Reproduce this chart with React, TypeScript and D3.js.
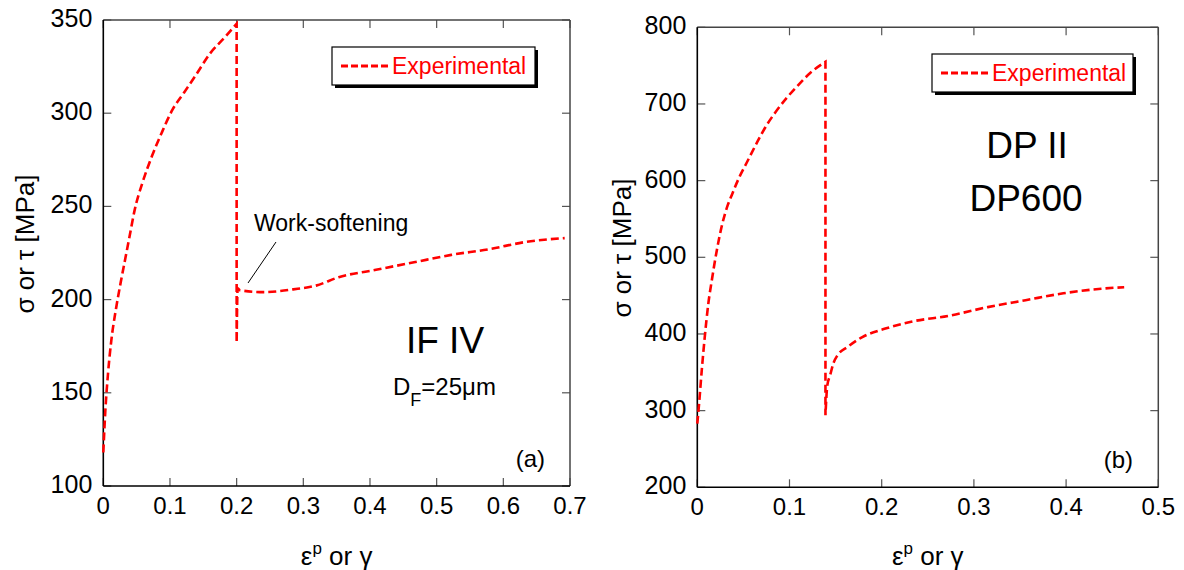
import React from "react";
import * as d3 from "d3";

// ---------- data ----------
// Panel (a): IF IV  (loading, drop at strain path change, reloading)
const strainA = [0, 0.003, 0.007, 0.012, 0.019, 0.026, 0.033, 0.04, 0.047, 0.059, 0.073, 0.087, 0.104, 0.121, 0.138, 0.16, 0.183, 0.2, 0.2, 0.2015, 0.205, 0.24, 0.285, 0.319, 0.353, 0.409, 0.466, 0.522, 0.578, 0.635, 0.692];
const stressA = [118, 140, 160, 178, 195, 209, 222, 235, 248, 263, 277, 289, 302, 311, 320, 332, 341, 348, 177, 206, 205, 204, 205.5, 207.5, 212, 216, 220, 224, 227, 231, 233];
// Panel (b): DP II DP600
const strainB = [0, 0.002, 0.005, 0.008, 0.012, 0.016, 0.021, 0.027, 0.033, 0.037, 0.045, 0.053, 0.064, 0.074, 0.084, 0.097, 0.109, 0.123, 0.139, 0.139, 0.141, 0.144, 0.148, 0.152, 0.163, 0.179, 0.204, 0.232, 0.274, 0.315, 0.356, 0.397, 0.438, 0.463];
const stressB = [283, 310, 355, 395, 440, 472, 508, 543, 568, 580, 603, 622, 648, 670, 688, 708, 724, 741, 755, 294, 333, 346, 363, 372, 383, 396, 407, 416, 424, 435, 444, 453, 459, 461];

const xTicksA = [0, 0.1, 0.2, 0.3, 0.4, 0.5, 0.6, 0.7];
const yTicksA = [100, 150, 200, 250, 300, 350];
const xTicksB = [0, 0.1, 0.2, 0.3, 0.4, 0.5];
const yTicksB = [200, 300, 400, 500, 600, 700, 800];

const legendLabel = "Experimental";
const FONT = "'Liberation Sans', Arial, Helvetica, sans-serif";
const RED = "#ff0000";

type PanelProps = {
  xs: number[];
  ys: number[];
  xDomain: [number, number];
  yDomain: [number, number];
  xTicks: number[];
  yTicks: number[];
  left: number;
  right: number;
  top: number;
  bottom: number;
  legend: { x: number; y: number; w: number; h: number };
  yTitleX: number;
  yTitleY: number;
  children?: React.ReactNode;
};

function buildPath(xs: number[], ys: number[], x: (v: number) => number, y: (v: number) => number) {
  const pts: [number, number][] = xs.map((v, i) => [v, ys[i]]);
  const segs: [number, number][][] = [];
  let cur: [number, number][] = [pts[0]];
  for (let i = 1; i < pts.length; i++) {
    if (pts[i][0] <= pts[i - 1][0]) {
      segs.push(cur);
      segs.push([pts[i - 1], pts[i]]);
      cur = [pts[i]];
    } else cur.push(pts[i]);
  }
  segs.push(cur);
  const smooth = d3.line<[number, number]>().x((d) => x(d[0])).y((d) => y(d[1])).curve(d3.curveMonotoneX);
  const straight = d3.line<[number, number]>().x((d) => x(d[0])).y((d) => y(d[1]));
  let d = "";
  segs.forEach((s, k) => {
    if (s.length < 2) return;
    const part = (k % 2 === 1 ? straight(s) : smooth(s)) || "";
    d += d === "" ? part : part.replace(/^M/, "L");
  });
  return d;
}

function Panel(p: PanelProps) {
  const x = d3.scaleLinear().domain(p.xDomain).range([p.left, p.right]);
  const y = d3.scaleLinear().domain(p.yDomain).range([p.bottom, p.top]);
  const tl = 8;
  const fmt = (v: number) => (v === 0 ? "0" : d3.format(".1f")(v));
  const cx = (p.left + p.right) / 2;
  const L = p.legend;
  return (
    <g>
      {p.xTicks.map((t) => (
        <g key={"x" + t}>
          <line x1={x(t)} x2={x(t)} y1={p.bottom} y2={p.bottom - tl} stroke="#555" strokeWidth={1.2} />
          <line x1={x(t)} x2={x(t)} y1={p.top} y2={p.top + tl} stroke="#555" strokeWidth={1.2} />
          <text x={x(t)} y={p.bottom + 28} textAnchor="middle" fontSize={24} fontFamily={FONT} fill="#000">
            {fmt(t)}
          </text>
        </g>
      ))}
      {p.yTicks.map((t) => (
        <g key={"y" + t}>
          <line x1={p.left} x2={p.left + tl} y1={y(t)} y2={y(t)} stroke="#555" strokeWidth={1.2} />
          <line x1={p.right} x2={p.right - tl} y1={y(t)} y2={y(t)} stroke="#555" strokeWidth={1.2} />
          <text x={p.left - 11} y={y(t) + 7} textAnchor="end" fontSize={25} fontFamily={FONT} fill="#000">
            {t}
          </text>
        </g>
      ))}
      <line x1={p.left} x2={p.right} y1={p.top} y2={p.top} stroke="#444" strokeWidth={1.5} />
      <line x1={p.right} x2={p.right} y1={p.top} y2={p.bottom} stroke="#444" strokeWidth={1.5} />
      <line x1={p.left} x2={p.right} y1={p.bottom} y2={p.bottom} stroke="#000" strokeWidth={1.6} />
      <line x1={p.left} x2={p.left} y1={p.top} y2={p.bottom} stroke="#000" strokeWidth={1.6} />
      <path d={buildPath(p.xs, p.ys, x, y)} fill="none" stroke={RED} strokeWidth={2.6} strokeDasharray="8,4" />
      <rect x={L.x + 3} y={L.y + 3} width={L.w} height={L.h} fill="#000" />
      <rect x={L.x} y={L.y} width={L.w} height={L.h} fill="#fff" stroke="#000" strokeWidth={1.2} />
      <line x1={L.x + 9} x2={L.x + 56} y1={L.y + L.h / 2} y2={L.y + L.h / 2} stroke={RED} strokeWidth={3} strokeDasharray="7,3" />
      <text x={L.x + 60} y={L.y + L.h / 2 + 8} fontSize={23} fontFamily={FONT} fill={RED}>
        {legendLabel}
      </text>
      <text x={cx} y={565} textAnchor="middle" fontSize={26} fontFamily={FONT} fill="#000">
        ε<tspan fontSize={17} dy={-11}>p</tspan>
        <tspan dy={11}> or γ</tspan>
      </text>
      <text
        transform={`translate(${p.yTitleX},${p.yTitleY}) rotate(-90)`}
        textAnchor="middle"
        dominantBaseline="central"
        fontSize={26}
        fontFamily={FONT}
        fill="#000"
      >
        σ or τ [MPa]
      </text>
      {p.children}
    </g>
  );
}

export default function App() {
  return (
    <svg width={1184} height={570} style={{ position: "absolute", left: 0, top: 0, background: "#fff" }}>
      <rect x={0} y={0} width={1184} height={570} fill="#fff" />
      <Panel
        xs={strainA}
        ys={stressA}
        xDomain={[0, 0.7]}
        yDomain={[100, 350]}
        xTicks={xTicksA}
        yTicks={yTicksA}
        left={103.3}
        right={570}
        top={20}
        bottom={486}
        legend={{ x: 332, y: 47, w: 203, h: 38 }}
        yTitleX={25}
        yTitleY={244}
      >
        <text x={445} y={353} textAnchor="middle" fontSize={37} fontFamily={FONT} fill="#000">
          IF IV
        </text>
        <text x={393} y={395} fontSize={24} fontFamily={FONT} fill="#000">
          D<tspan fontSize={18} dy={11}>F</tspan>
          <tspan dy={-11}>=25μm</tspan>
        </text>
        <text x={545} y={467} textAnchor="end" fontSize={24} fontFamily={FONT} fill="#000">
          (a)
        </text>
        <text x={254} y={231} fontSize={23} fontFamily={FONT} fill="#000">
          Work-softening
        </text>
        <line x1={276} y1={242} x2={248} y2={283} stroke="#000" strokeWidth={1} />
      </Panel>
      <Panel
        xs={strainB}
        ys={stressB}
        xDomain={[0, 0.5]}
        yDomain={[200, 800]}
        xTicks={xTicksB}
        yTicks={yTicksB}
        left={697.3}
        right={1158.3}
        top={27.3}
        bottom={487.3}
        legend={{ x: 932, y: 54, w: 201, h: 38 }}
        yTitleX={622}
        yTitleY={248}
      >
        <text x={1027} y={158} textAnchor="middle" fontSize={37} fontFamily={FONT} fill="#000">
          DP II
        </text>
        <text x={1026} y={211} textAnchor="middle" fontSize={37} fontFamily={FONT} fill="#000">
          DP600
        </text>
        <text x={1133} y={468} textAnchor="end" fontSize={24} fontFamily={FONT} fill="#000">
          (b)
        </text>
      </Panel>
    </svg>
  );
}
